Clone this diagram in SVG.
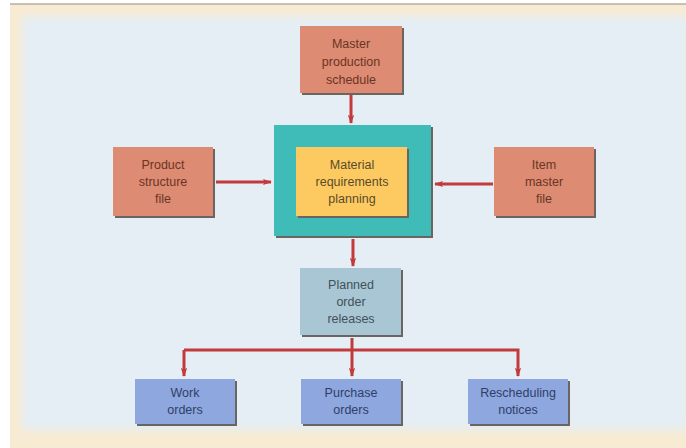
<svg xmlns="http://www.w3.org/2000/svg" width="686" height="448" viewBox="0 0 686 448">
<defs>
<filter id="soft" x="-5%" y="-5%" width="110%" height="110%"><feGaussianBlur stdDeviation="4"/></filter>
<marker id="ah" viewBox="0 0 10 10" refX="9" refY="5" markerWidth="3" markerHeight="3" orient="auto" markerUnits="strokeWidth">
<path d="M0,1.5 L10,5 L0,8.5 L2,5 Z" fill="#c23a3c"/>
</marker>
</defs>
<style>
text{font-family:"Liberation Sans",Arial,sans-serif;font-size:12.5px;text-anchor:middle}
.sh{fill:#6a6560}
.salmon{fill:#dd8b72}
.teal{fill:#40bcb8}
.yellow{fill:#fdca62}
.planned{fill:#a8c6d4}
.blue{fill:#8ea7de}
.tb{fill:#6a3526}
.td{fill:#5a4a2a}
.tg{fill:#44505a}
.tp{fill:#2f3f6a}
.conn{stroke:#c23a3c;stroke-width:3;fill:none}
</style>
<rect x="0" y="0" width="686" height="448" fill="#ffffff"/>
<rect x="10" y="4" width="676" height="444" fill="#f8ebd3"/>
<line x1="10" y1="4" x2="686" y2="4" stroke="#b8ae9c" stroke-width="1.5"/>
<rect x="22" y="16" width="668" height="414" fill="#e4eef4" filter="url(#soft)"/>

<g id="connectors">
<line class="conn" x1="351" y1="95" x2="351" y2="123" marker-end="url(#ah)"/>
<line class="conn" x1="216" y1="182" x2="271" y2="182" marker-end="url(#ah)"/>
<line class="conn" x1="493" y1="184" x2="435" y2="184" marker-end="url(#ah)"/>
<line class="conn" x1="353" y1="239" x2="353" y2="266" marker-end="url(#ah)"/>
<line class="conn" x1="352" y1="338" x2="352" y2="350"/>
<polyline class="conn" points="184,350 518,350 518,376" marker-end="url(#ah)"/>
<line class="conn" x1="184" y1="350" x2="184" y2="376" marker-end="url(#ah)"/>
<line class="conn" x1="352" y1="350" x2="352" y2="376" marker-end="url(#ah)"/>
</g>

<g id="master">
<rect class="sh" x="302" y="28" width="102" height="67"/>
<rect class="salmon" x="300" y="26" width="102" height="67"/>
<text class="tb" x="351" y="48">Master</text>
<text class="tb" x="351" y="66">production</text>
<text class="tb" x="351" y="84">schedule</text>
</g>

<g id="product">
<rect class="sh" x="115" y="149" width="100" height="69"/>
<rect class="salmon" x="113" y="147" width="100" height="69"/>
<text class="tb" x="163" y="169">Product</text>
<text class="tb" x="163" y="186">structure</text>
<text class="tb" x="163" y="203">file</text>
</g>

<g id="item">
<rect class="sh" x="496" y="149" width="100" height="69"/>
<rect class="salmon" x="494" y="147" width="100" height="69"/>
<text class="tb" x="544" y="169">Item</text>
<text class="tb" x="544" y="186">master</text>
<text class="tb" x="544" y="203">file</text>
</g>

<g id="mrp">
<rect class="sh" x="276" y="127" width="157" height="111"/>
<rect class="teal" x="274" y="125" width="157" height="111"/>
<rect class="sh" x="298" y="149" width="111" height="69"/>
<rect class="yellow" x="296" y="147" width="111" height="69"/>
<text class="td" x="352" y="169">Material</text>
<text class="td" x="352" y="186">requirements</text>
<text class="td" x="352" y="203">planning</text>
</g>

<g id="planned">
<rect class="sh" x="302" y="270" width="101" height="67"/>
<rect class="planned" x="300" y="268" width="101" height="67"/>
<text class="tg" x="351" y="289">Planned</text>
<text class="tg" x="351" y="306">order</text>
<text class="tg" x="351" y="323">releases</text>
</g>

<g id="work">
<rect class="sh" x="137" y="381" width="100" height="45"/>
<rect class="blue" x="135" y="379" width="100" height="45"/>
<text class="tp" x="185" y="397">Work</text>
<text class="tp" x="185" y="414">orders</text>
</g>

<g id="purchase">
<rect class="sh" x="303" y="381" width="100" height="45"/>
<rect class="blue" x="301" y="379" width="100" height="45"/>
<text class="tp" x="351" y="397">Purchase</text>
<text class="tp" x="351" y="414">orders</text>
</g>

<g id="reschedule">
<rect class="sh" x="470" y="381" width="100" height="45"/>
<rect class="blue" x="468" y="379" width="100" height="45"/>
<text class="tp" x="518" y="397">Rescheduling</text>
<text class="tp" x="518" y="414">notices</text>
</g>
</svg>
